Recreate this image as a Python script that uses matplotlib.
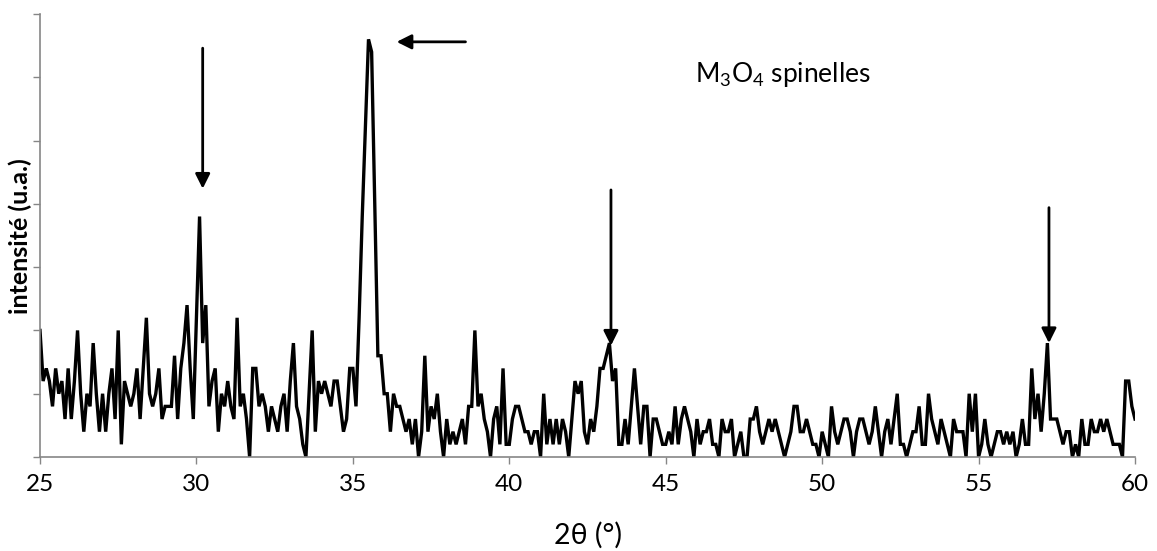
import numpy as np
import matplotlib
matplotlib.use('Agg')
import matplotlib.pyplot as plt

plt.rcParams['font.family'] = ['Lato', 'DejaVu Sans']
plt.rcParams['mathtext.default'] = 'regular'

# angles 2theta, pas de 0.1 deg
theta = np.round(np.linspace(25, 60, 351), 2)

intensite = [
    10, 6, 7, 6, 4, 7, 5, 6, 3, 7, 3, 6, 10, 5, 2, 5, 4, 9, 5, 2, 5, 2, 5, 7, 3, 10, 1, 6, 5, 4, 5, 7,
    3, 7, 11, 5, 4, 5, 7, 3, 4, 4, 4, 8, 3, 7, 9, 12, 7, 3, 11, 19, 9, 12, 4, 6, 7, 2, 5, 4, 6, 4, 3, 11,
    4, 5, 3, 0, 7, 7, 4, 5, 4, 2, 4, 3, 2, 4, 5, 2, 6, 9, 4, 3, 1, 0, 5, 10, 2, 6, 5, 6, 5, 4, 6, 6,
    4, 2, 3, 7, 7, 4, 11, 19, 26, 33, 32, 20, 8, 8, 5, 5, 2, 5, 4, 4, 3, 2, 3, 1, 3, 0, 2, 8, 2, 4, 3, 5,
    2, 0, 3, 1, 2, 1, 2, 3, 1, 4, 4, 10, 4, 5, 3, 2, 0, 3, 4, 1, 7, 1, 1, 3, 4, 4, 3, 2, 2, 1, 2, 2,
    0, 5, 1, 3, 1, 3, 1, 3, 2, 0, 3, 6, 5, 6, 2, 1, 3, 2, 4, 7, 7, 8, 9, 6, 7, 1, 1, 3, 1, 4, 7, 4,
    1, 4, 4, 0, 3, 3, 2, 1, 1, 2, 1, 4, 1, 3, 4, 3, 2, 0, 3, 1, 2, 2, 3, 1, 1, 0, 3, 2, 2, 3, 0,
    1, 2, 0, 0, 3, 3, 4, 2, 1, 2, 3, 2, 3, 2, 1, 0, 1, 2, 4, 4, 2, 2, 3, 2, 1, 1, 0, 2, 1, 0, 4, 2,
    1, 2, 3, 3, 2, 0, 2, 3, 3, 2, 1, 2, 4, 2, 0, 2, 3, 1, 3, 5, 1, 1, 0, 1, 2, 2, 4, 1, 1, 5, 3, 2,
    1, 3, 2, 1, 0, 3, 2, 2, 2, 0, 5, 2, 5, 0, 1, 3, 1, 0, 1, 2, 2, 1, 2, 1, 2, 0, 1, 3, 1, 1, 7, 3,
    5, 2, 5, 9, 3, 3, 3, 2, 1, 2, 2, 0, 1, 0, 3, 1, 1, 3, 2, 2, 3, 2, 3, 2, 1, 1, 1, 0, 6, 6, 4, 3,
]

# fleches : (x_debut, y_debut, x_fin, y_fin)
fleches = [
    (30.2, 32.3, 30.2, 21.2),
    (38.6, 32.8, 36.4, 32.8),
    (43.25, 21.1, 43.25, 8.8),
    (57.25, 19.7, 57.25, 9.0),
]

fig = plt.figure(figsize=(11.57, 5.51), dpi=100)
ax = fig.add_axes([40 / 1157, 94 / 551, 1095 / 1157, 443 / 551])

ax.plot(theta, intensite, color='black', lw=2.4, solid_joinstyle='miter')

for x0, y0, x1, y1 in fleches:
    ax.annotate('', xy=(x1, y1), xytext=(x0, y0),
                arrowprops=dict(arrowstyle='-|>', color='black', lw=2,
                                mutation_scale=22, shrinkA=0, shrinkB=0))

ax.text(45.95, 30.2, 'M$_3$O$_4$ spinelles', fontsize=19, va='center', ha='left')

ax.set_xlim(25, 60)
ax.set_ylim(0, 35)
ax.set_xticks(np.arange(25, 61, 5))
ax.set_yticks(np.arange(0, 36, 5))
ax.set_yticklabels([])
ax.tick_params(axis='x', colors='#868686', labelcolor='black', labelsize=17.5,
               length=5, width=1, direction='out', pad=7)
ax.tick_params(axis='y', colors='#868686', length=5, width=1, direction='out')
for s in ['top', 'right']:
    ax.spines[s].set_visible(False)
for s in ['left', 'bottom']:
    ax.spines[s].set_color('#868686')
    ax.spines[s].set_linewidth(1.2)

fig.text(588 / 1157, 1 - 535 / 551, '2θ (°)', fontsize=20.5, ha='center', va='center')
fig.text(20 / 1157, 1 - 236 / 551, 'intensité (u.a.)', fontsize=18, fontweight='bold',
         rotation=90, ha='center', va='center')

plt.savefig('out.png', dpi=100)
plt.close()
